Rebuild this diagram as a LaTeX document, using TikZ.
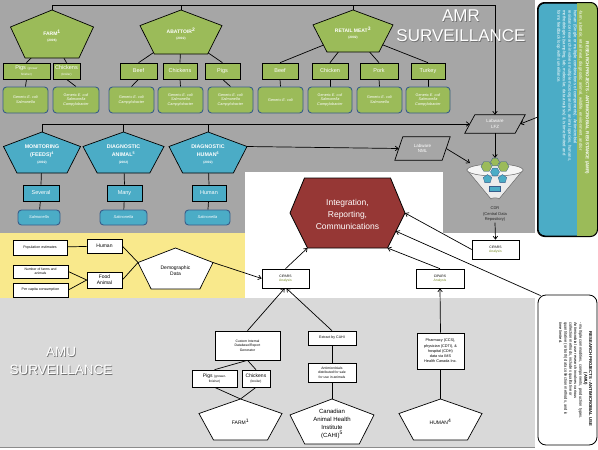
\documentclass[tikz,border=0pt]{standalone}
\usepackage{fontspec}
\setmainfont{Liberation Sans}
\usetikzlibrary{shapes.geometric,calc,arrows.meta}
\pgfdeclarelayer{bg}
\pgfdeclarelayer{lines}
\pgfsetlayers{bg,lines,main}
\definecolor{amrgray}{RGB}{166,166,166}
\definecolor{amugray}{RGB}{217,217,217}
\definecolor{ayellow}{RGB}{249,233,140}
\definecolor{agreen}{RGB}{155,187,89}
\definecolor{ablue}{RGB}{75,172,198}
\definecolor{ared}{RGB}{150,55,53}
\definecolor{rbord}{RGB}{56,93,138}
\definecolor{anlys}{RGB}{120,140,40}
\newcommand\fsz[2]{\fontsize{#1}{#2}\selectfont}
% name, cx, cy, w, h, path style, label style, text
\newcommand\mypent[8]{%
 \path[#6] ({#2},{#3-#5/2}) coordinate (#1-t)
  -- ({#2+#4/2},{#3-0.146*#5}) coordinate (#1-r)
  -- ({#2+0.325*#4},{#3+#5/2}) coordinate (#1-br)
  -- ({#2-0.325*#4},{#3+#5/2}) coordinate (#1-bl)
  -- ({#2-#4/2},{#3-0.146*#5}) coordinate (#1-l) -- cycle;
 \node[#7] (#1) at ({#2},{#3+0.05*#5}) {#8};}
\tikzset{
 gpent/.style={draw,fill=agreen,line width=0.7},
 bpent/.style={draw,fill=ablue,line width=0.7},
 wpent/.style={draw,fill=white,line width=0.7},
 plab/.style={text=white,font=\bfseries\fsz{5}{6},align=center,inner sep=0},
 blab/.style={text=white,font=\bfseries\fsz{5.3}{7.5},align=center,inner sep=0},
 wlab/.style={text=black,font=\fsz{5}{6},align=center,inner sep=0},
 sz/.style 2 args={minimum width=#1,minimum height=#2},
 gbox/.style={draw,fill=agreen,text=white,inner sep=0.3pt,align=center,font=\fsz{5.5}{5.5},line width=0.6},
 grbox/.style={draw=rbord,fill=agreen,rounded corners=3.5,text=white,inner sep=0.3pt,align=center,font=\fsz{3.8}{4.8},line width=0.9},
 bbox/.style={draw,fill=ablue,text=white,inner sep=0.3pt,align=center,font=\fsz{5.5}{6},line width=0.6},
 brbox/.style={draw=rbord,fill=ablue,rounded corners=3.5,text=white,inner sep=0.3pt,align=center,font=\itshape\fsz{4}{5},line width=0.9},
 wbox/.style={draw,fill=white,text=black,inner sep=0.3pt,align=center,font=\fsz{3.6}{4.4},line width=0.6},
 labw/.style={text=white,inner sep=0.3pt,align=center,font=\fsz{4.5}{5.5}},
 conn/.style={line width=0.7},
 arr/.style={line width=0.7,-{Straight Barb[length=3pt,width=4.5pt]}},
 survsh/.style={text=black!55,align=center,inner sep=0},
 survw/.style={text=white,align=center,inner sep=0},
 rline/.style={rotate=-90,anchor=west,inner sep=0},
 rcen/.style={rotate=-90,anchor=center,inner sep=0}
}
\begin{document}
\begin{tikzpicture}[x=1pt,y=-1pt]
\useasboundingbox (0,0) rectangle (598,450);
\begin{pgfonlayer}{bg}
 \fill[amrgray] (0,0) rectangle (535,233);
 \fill[ayellow] (0,233) rectangle (245,298);
 \fill[white] (245,172) rectangle (443,298);
 \fill[white] (443,233) rectangle (535,298);
 \fill[amugray] (0,298) rectangle (535,447);
 \draw[black!45,line width=0.6] (0,447) -- (535,447);
\end{pgfonlayer}

% surveillance titles
\node[survsh,font=\fsz{17}{20}] at (461.8,26.8) {AMR\\SURVEILLANCE};
\node[survw,font=\fsz{17}{20}] (amrtitle) at (461,26) {AMR\\SURVEILLANCE};
\node[survsh,font=\fsz{13.5}{17.5}] at (61.8,361.8) {AMU\\SURVEILLANCE};
\node[survw,font=\fsz{13.5}{17.5}] (amutitle) at (61,361) {AMU\\SURVEILLANCE};

% green pentagons
\mypent{farm}{52}{34}{83}{48}{gpent}{plab}{FARM\textsuperscript{1}\\{\fsz{3.2}{4}(2006)}}
\mypent{abat}{181}{32}{82}{44}{gpent}{plab}{ABATTOIR\textsuperscript{2}\\{\fsz{3.2}{4}(2002)}}
\mypent{ret}{353}{31}{80}{42}{gpent}{plab}{RETAIL MEAT\textsuperscript{3}\\{\fsz{3.2}{4}(2002)}}

% green boxes
\node[gbox,sz={47}{16}] (pigsF) at (26.5,71) {Pigs {\fsz{3}{3.6}(grower}\\{\fsz{3}{3.6}finisher)}};
\node[gbox,sz={27}{16}] (chickF) at (66.5,71) {Chickens\\{\fsz{3}{3.6}(broiler)}};
\node[gbox,sz={37}{16}] (beefA) at (138.5,71) {Beef};
\node[gbox,sz={34}{16}] (chickA) at (180,71) {Chickens};
\node[gbox,sz={35}{16}] (pigsA) at (222.5,71) {Pigs};
\node[gbox,sz={36}{16}] (beefR) at (280,71) {Beef};
\node[gbox,sz={36}{16}] (chickR) at (330,71) {Chicken};
\node[gbox,sz={38}{16}] (porkR) at (379,71) {Pork};
\node[gbox,sz={34}{16}] (turkR) at (428,71) {Turkey};

% green rounded boxes
\node[grbox,sz={45}{26}] (r1) at (25.5,100) {Generic \textit{E. coli}\\\textit{Salmonella}};
\node[grbox,sz={46}{26}] (r2) at (76,100) {Generic \textit{E. coli}\\\textit{Salmonella}\\\textit{Campylobacter}};
\node[grbox,sz={45}{26}] (r3) at (131.5,100) {Generic \textit{E. coli}\\\textit{Campylobacter}};
\node[grbox,sz={45}{26}] (r4) at (180.5,100) {Generic \textit{E. coli}\\\textit{Salmonella}\\\textit{Campylobacter}};
\node[grbox,sz={45}{26}] (r5) at (230.5,100) {Generic \textit{E. coli}\\\textit{Salmonella}\\\textit{Campylobacter}};
\node[grbox,sz={45}{26}] (r6) at (280.5,100) {Generic \textit{E. coli}};
\node[grbox,sz={44}{26}] (r7) at (330,100) {Generic \textit{E. coli}\\\textit{Salmonella}\\\textit{Campylobacter}};
\node[grbox,sz={45}{26}] (r8) at (379.5,100) {Generic \textit{E. coli}\\\textit{Salmonella}};
\node[grbox,sz={44}{26}] (r9) at (428,100) {Generic \textit{E. coli}\\\textit{Salmonella}\\\textit{Campylobacter}};

% blue pentagons
\mypent{mon}{42}{152.5}{77}{41}{bpent}{blab}{MONITORING\\(FEEDS)\textsuperscript{4}\\{\fsz{3.2}{4}(2002)}}
\mypent{ani}{123.5}{152.5}{81}{41}{bpent}{blab}{DIAGNOSTIC\\ANIMAL\textsuperscript{5}\\{\fsz{3.2}{4}(2002)}}
\mypent{hum}{208}{152.5}{78}{41}{bpent}{blab}{DIAGNOSTIC\\HUMAN\textsuperscript{6}\\{\fsz{3.2}{4}(2002)}}

\node[bbox,sz={36}{16}] (several) at (41,193) {Several};
\node[bbox,sz={35}{16}] (many) at (124.5,193) {Many};
\node[bbox,sz={34}{16}] (humanB) at (209,193) {Human};
\node[brbox,sz={42}{15}] (s1) at (39,217.5) {Salmonella};
\node[brbox,sz={47}{15}] (s2) at (123.5,217.5) {Salmonella};
\node[brbox,sz={45}{15}] (s3) at (207.5,217.5) {Salmonella};

% labware
\node[labw,sz={50}{18}] (lfz) at (495,124) {Labware\\LFZ};
\node[labw,sz={47}{23}] (nml) at (422.5,148.5) {Labware\\NML};
\begin{pgfonlayer}{bg}
 \draw[fill=amrgray,line width=0.7] ($(lfz.north west)+(5,0)$) -- ($(lfz.north east)+(5,0)$) -- ($(lfz.south east)+(-5,0)$) -- ($(lfz.south west)+(-5,0)$) -- cycle;
 \draw[fill=amrgray,line width=0.7] ($(nml.north west)+(4,0)$) -- ($(nml.north east)+(4,0)$) -- ($(nml.south east)+(-4,0)$) -- ($(nml.south west)+(-4,0)$) -- cycle;
\end{pgfonlayer}

% CDR funnel
\path[fill=black!8,draw=black!60,line width=0.5] (467,170) -- (491,199) arc[start angle=180,end angle=360,x radius=4,y radius=1.2] -- (523,170) -- cycle;
\path[fill=black!4,draw=black!60,line width=0.5] (495,170) ellipse[x radius=28,y radius=6];
\node[regular polygon,regular polygon sides=6,fill=agreen,draw=rbord,line width=0.3,inner sep=0,minimum size=11] at (486.5,166.5) {};
\node[regular polygon,regular polygon sides=6,fill=agreen,draw=rbord,line width=0.3,inner sep=0,minimum size=11] at (503.5,166.5) {};
\node[regular polygon,regular polygon sides=6,fill=agreen,draw=rbord,line width=0.3,inner sep=0,minimum size=9] at (495,162) {};
\node[regular polygon,regular polygon sides=6,fill=ablue,draw=rbord,line width=0.3,inner sep=0,minimum size=9] at (495,172) {};
\node[regular polygon,regular polygon sides=5,fill=ablue,draw=rbord,line width=0.3,inner sep=0,minimum size=9] at (487.5,179) {};
\node[regular polygon,regular polygon sides=5,fill=ablue,draw=rbord,line width=0.3,inner sep=0,minimum size=9] at (502.5,179) {};
\node[fill=ablue,draw=rbord,line width=0.3,inner sep=0,minimum width=11,minimum height=5] at (495,189) {};
\coordinate (cdrtop) at (495,158);
\coordinate (cdrleft) at (470,163);
\node[font=\fsz{4}{5.5},align=center,text=black!85,inner sep=0.5pt] (cdrlab) at (495,214.5) {CDR\\(Central Data\\Repository)};

% integration hexagon
\path[draw,fill=ared,line width=0.8] (304.5,178) -- (390.5,178) -- (405,213) coordinate (hex-r) -- (387.5,248) coordinate (hex-br) -- (307.5,248) coordinate (hex-bl) -- (290,213) -- cycle;
\coordinate (hex-e) at ($(hex-r)!0.52!(hex-br)$);
\node[text=white,font=\fsz{8.5}{12},align=center,inner sep=0] (hex) at (347.5,214) {Integration,\\Reporting,\\Communications};

% CIPARS boxes
\node[wbox,font=\fsz{3.4}{4.4},sz={47}{19}] (cipL) at (285.5,278.5) {CIPARS\\{\color{anlys}Analysis}};
\node[wbox,font=\fsz{3.4}{4.4},sz={48}{19}] (cipM) at (440,278.5) {CIPARS\\{\color{anlys}Analysis}};
\node[wbox,font=\fsz{3.4}{4.4},sz={47}{19}] (cipR) at (495.5,249.5) {CIPARS\\{\color{anlys}Analysis}};

% yellow region
\node[wbox,sz={54}{15}] (pop) at (40,247.5) {Population estimates};
\node[wbox,font=\fsz{5}{6},sz={35}{14}] (humanY) at (104.5,246) {Human};
\node[wbox,font=\fsz{3.4}{4.2},sz={55}{13}] (nfarm) at (40.5,271.5) {Number of farms and\\animals};
\node[wbox,font=\fsz{5}{6},sz={35}{16}] (food) at (104.5,280) {Food\\Animal};
\node[wbox,sz={55}{14}] (percap) at (40.5,290) {Per capita consumption};
\mypent{dem}{175.5}{268.5}{75}{41}{wpent}{wlab}{Demographic\\Data}

% AMU region
\node[wbox,font=\fsz{3.4}{4.4},sz={65}{29}] (custom) at (247.5,345.5) {Custom Internal\\Database/Report\\Generator};
\node[wbox,font=\fsz{5}{4.2},sz={45}{17}] (pigsB) at (214.5,378.5) {Pigs {\fsz{3.2}{4}(grower-}\\{\fsz{3.2}{4}finisher)}};
\node[wbox,font=\fsz{5}{4.2},sz={28}{17}] (chickB) at (256,378.5) {Chickens\\{\fsz{3.2}{4}(broiler)}};
\node[wbox,sz={48}{14}] (extract) at (332,338) {Extract by CAHI};
\node[wbox,font=\fsz{3.4}{4.4},sz={48}{19}] (antimic) at (332,372.5) {Antimicrobials\\distributed for sale\\for use in animals};
\node[wbox,font=\fsz{3.8}{5.2},sz={47}{36}] (pharm) at (440.5,351) {Pharmacy (CCS),\\physician (CDTI), \&\\hospital (CDH)\\data via IMS\\Health Canada Inc.};
\mypent{farmB}{240.5}{419.5}{83}{41}{wpent}{wlab}{FARM\textsuperscript{1}}
\mypent{cahi}{332}{421.5}{84}{45}{wpent}{wlab,font=\fsz{6}{8}}{Canadian\\Animal Health\\Institute\\(CAHI)\textsuperscript{5}}
\mypent{humP}{440.5}{419.5}{83}{41}{wpent}{wlab}{HUMAN\textsuperscript{4}}

% research boxes
\node[draw,line width=1,rounded corners=7,fill=ablue,minimum width=59,minimum height=233] (amrres) at (567.5,119.5) {};
\begin{scope}
 \clip[rounded corners=7] (amrres.north west) rectangle (amrres.south east);
 \fill[agreen] (576.5,0) rectangle (600,240);
\end{scope}
\draw[line width=1,rounded corners=7] (amrres.north west) rectangle (amrres.south east);
\node[rcen,text=white,font=\bfseries\fsz{4.4}{5}] (amrhead) at (587,108) {RESEARCH PROJECTS - ANTIMICROBIAL RESISTANCE (AMR)};
\node[rline,text=white,font=\fsz{4.3}{5}] at (580.5,10) {-farm, abattoir, retail meat, diagnostic animal, wildlife, environment, and/or};
\node[rline,text=white,font=\fsz{4.3}{5}] at (575,10) {human (Single or multiple combinations of components). Antimicrobial};
\node[rline,text=white,font=\fsz{4.3}{5}] at (569.5,10) {resistance research involves multiple microorganisms, animal species, humans,};
\node[rline,text=white,font=\fsz{4.3}{5}] at (564,10) {methodologies (sampling, lab, molecular, data analysis) \& is time limited and};
\node[rline,text=white,font=\fsz{4.3}{5}] at (558.5,10) {forms feedback loop with surveillance.};

\node[draw,line width=0.8,rounded corners=8,fill=white,minimum width=59,minimum height=150] (amures) at (567.5,370) {};
\node[rcen,text=black,font=\bfseries\fsz{4.2}{5}] (amuhead) at (590.5,379) {RESEARCH PROJECTS - ANTIMICROBIAL USE};
\node[rcen,text=black,font=\bfseries\fsz{4.2}{5}] at (585.5,379) {(AMU)};
\node[rline,text=black,font=\fsz{4}{5}] at (580.5,322) {- multiple commodities, components, production types.};
\node[rline,text=black,font=\fsz{4}{5}] at (575.5,322) {Antimicrobial use research involves various};
\node[rline,text=black,font=\fsz{4}{5}] at (570.5,322) {collection methods, includes qualitative or};
\node[rline,text=black,font=\fsz{4}{5}] at (565.5,322) {quantitative (or both) data collection methods, and is};
\node[rline,text=black,font=\fsz{4}{5}] at (560.5,322) {time limited.};

% connectors
\begin{pgfonlayer}{lines}
 \coordinate (busA) at (495,5);
 \draw[conn] (farm-t) -- (farm-t |- busA) -- (busA);
 \draw[conn] (abat-t) -- (abat-t |- busA);
 \draw[conn] (ret-t) -- (ret-t |- busA);
 \draw[arr] (busA) -- (lfz.north);
 \foreach \a/\b in {farm/pigsF,farm/chickF,abat/beefA,abat/chickA,abat/pigsA,ret/beefR,ret/chickR,ret/porkR,ret/turkR}
  \draw[conn] (\a) -- (\b.north);
 \foreach \a/\b in {pigsF/r1,chickF/r2,beefA/r3,chickA/r4,pigsA/r5,beefR/r6,chickR/r7,porkR/r8,turkR/r9}
  \draw[conn] (\a.south) -- (\b.north);
 \draw[arr] (mon-t) |- (lfz.west);
 \draw[conn] (ani-t) -- (ani-t |- lfz.west);
 \draw[conn] (hum-t) -- (hum-t |- lfz.west);
 \draw[conn] (mon) -- (several.north);
 \draw[conn] (ani) -- (many.north);
 \draw[conn] (hum) -- (humanB.north);
 \draw[conn] (several) -- (s1);
 \draw[conn] (many) -- (s2);
 \draw[conn] (humanB) -- (s3);
 \draw[arr] (hum-r) -- (nml.west);
 \draw[arr] (nml.east) -- (cdrleft);
 \draw[arr] (lfz.south) -- (cdrtop);
 \draw[arr] ($(amrres.north west)!0.49!(amrres.south west)$) -- (lfz.east);
 \draw[arr] (cdrlab.south) -- (cipR.north);
 \draw[arr] (cipR.west) -- (hex-r);
 \draw[arr] ($(amures.north west)+(3,1)$) -- (hex-e);
 \draw[arr] (cipM.north) -- (hex-br);
 \draw[arr] (cipL.north) -- (hex-bl);
 \draw[arr] (dem-r) -- (cipL.west);
 \draw[conn] (pop) -- (humanY);
 \draw[conn] (humanY.east) -- (dem-l);
 \draw[conn] (food.east) -- (dem-l);
 \draw[conn] (nfarm.east) -- (food.west);
 \draw[conn] (percap.east) -- (food.west);
 \draw[arr] (custom.north) -- (cipL.265);
 \draw[arr] (extract.north) -- (cipL.275);
 \draw[conn] (custom.south) -- (pigsB.north);
 \draw[conn] (custom.south) -- (chickB.north);
 \draw[conn] (pigsB.south) -- (farmB-t);
 \draw[conn] (chickB.south) -- (farmB-t);
 \draw[conn] (extract) -- (antimic);
 \draw[conn] (antimic.south) -- (cahi-t);
 \draw[arr] (pharm.north) -- (cipM.south);
 \draw[conn] (humP-t) -- (pharm.south);
\end{pgfonlayer}
\end{tikzpicture}
\end{document}
